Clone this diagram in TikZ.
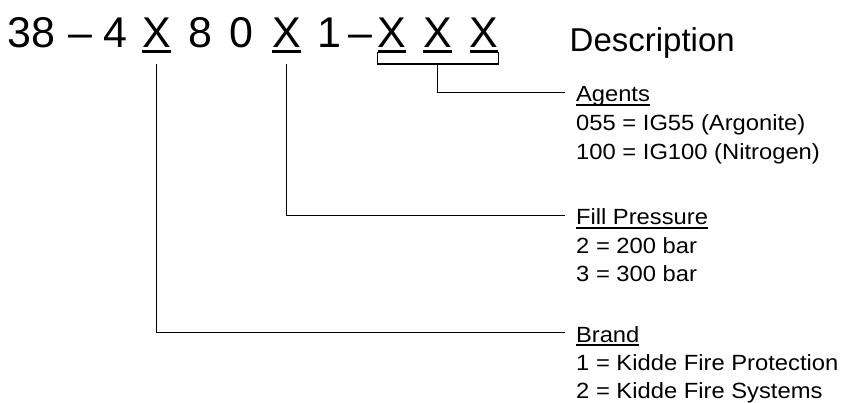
\documentclass[tikz,border=0pt]{standalone}
\usepackage{fontspec}
\setmainfont{Liberation Sans}
\newfontfamily\labfont[FakeStretch=1.08]{Liberation Sans}
\newcommand\bigfnt{\fontsize{43}{43}\selectfont}
\newcommand\descfnt{\fontsize{33}{33}\selectfont}
\newcommand\labfnt{\labfont\fontsize{22}{22}\selectfont}
\newcommand\bigul[1]{\setbox0\hbox{#1}\rlap{\rule[-4.7pt]{\wd0}{2.6pt}}\box0}
\newcommand\labul[1]{\setbox0\hbox{#1}\rlap{\rule[-3.6pt]{\wd0}{1.4pt}}\box0}
\begin{document}
\begin{tikzpicture}[x=1pt,y=-1pt,
  code/.style={anchor=base,inner sep=0pt,font=\bigfnt},
  title/.style={anchor=base west,inner sep=0pt,text height=21pt,text depth=2pt,outer xsep=11pt,font=\labfnt},
  item/.style={anchor=base west,inner sep=0pt,font=\labfnt},
  conn/.style={line width=1.6pt,black}]
\useasboundingbox (0,0) rectangle (843,403);
% code line
\node[code] (c38) at (31.5,48) {38};
\node[code] (d1) at (80.5,48) {--};
\node[code] (c4) at (115,48) {4};
\node[code] (x1) at (156.5,48) {\bigul{X}};
\node[code] (c8) at (200,48) {8};
\node[code] (c0) at (241.5,48) {0};
\node[code] (x2) at (286.5,48) {\bigul{X}};
\node[code] (c1) at (329,48) {1};
\node[code] (d2) at (360.5,48) {--};
\node[code] (x3) at (392,48) {\bigul{X}};
\node[code] (x4) at (437.5,48) {\bigul{X}};
\node[code] (x5) at (484,48) {\bigul{X}};
\node[anchor=base west,inner sep=0pt,font=\descfnt] (desc) at (569.5,52) {Description};
% agents
\node[title] (agT) at (565,102) {\labul{Agents}};
\node[item] (ag1) at (576,131) {055 = IG55 (Argonite)};
\node[item] (ag2) at (576,160) {100 = IG100 (Nitrogen)};
% fill pressure
\node[title] (fpT) at (565,225) {\labul{Fill Pressure}};
\node[item] (fp1) at (576,254) {2 = 200 bar};
\node[item] (fp2) at (576,282) {3 = 300 bar};
% brand
\node[title] (brT) at (565,342) {\labul{Brand}};
\node[item] (br1) at (576,370) {1 = Kidde Fire Protection};
\node[item] (br2) at (576,398) {2 = Kidde Fire Systems};
% connectors
\draw[conn] ([yshift=-16pt]x1.base) |- (brT.west);
\draw[conn] ([yshift=-16pt]x2.base) |- (fpT.west);
\draw[conn] ([yshift=-4pt]x3.base west) -- ([yshift=-16pt]x3.base west) -- ([yshift=-16pt]x5.base east) -- ([yshift=-4pt]x5.base east);
\draw[conn] ([yshift=-16pt]x4.base) |- (agT.west);
\end{tikzpicture}
\end{document}
